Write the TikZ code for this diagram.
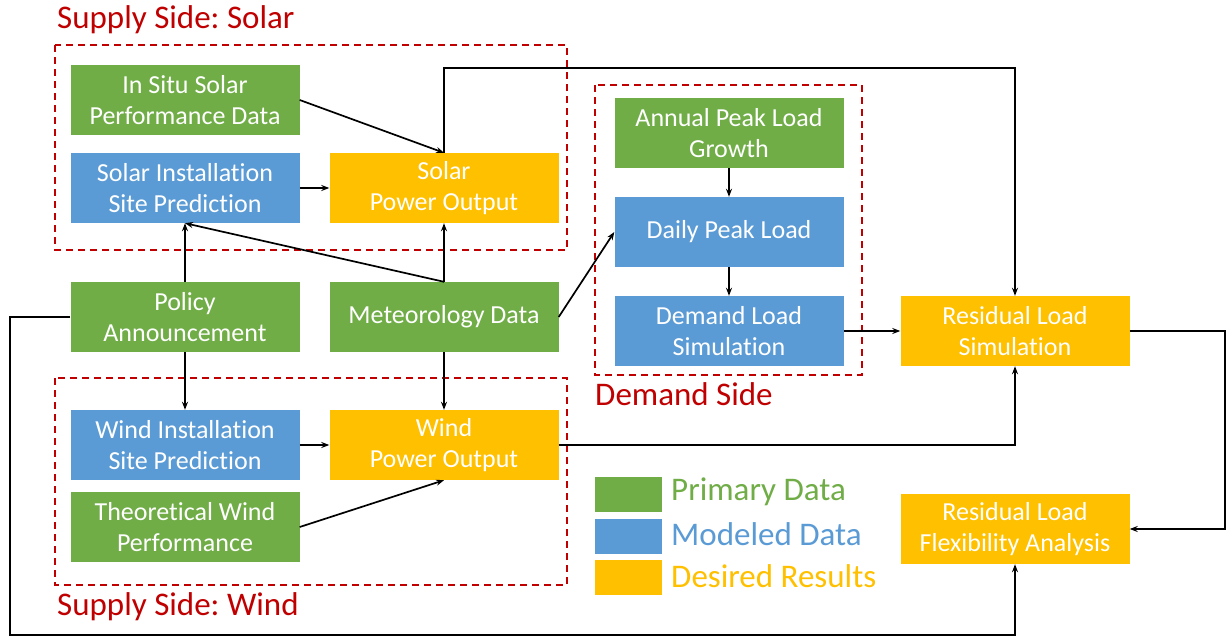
\documentclass[tikz,border=0pt]{standalone}
\usepackage{fontspec}
\setmainfont{Carlito}[Ligatures={NoCommon,NoRequired,NoContextual}]
\usetikzlibrary{arrows.meta}
\definecolor{cgreen}{HTML}{70AD47}
\definecolor{cblue}{HTML}{5B9BD5}
\definecolor{corange}{HTML}{FFC000}
\definecolor{cred}{HTML}{C00000}
\frenchspacing
\tikzset{
  box/.style={rectangle, minimum width=229pt, minimum height=70pt, inner sep=0pt, text=white, align=center, font=\fontsize{26}{31}\selectfont},
  gbox/.style={box, fill=cgreen},
  bbox/.style={box, fill=cblue},
  obox/.style={box, fill=corange},
  arr/.style={line width=1.7pt, -{Stealth[length=8pt,width=6pt]}, black},
  reddash/.style={draw=cred, line width=1.7pt, dash pattern=on 7pt off 5pt},
  grouplabel/.style={text=cred, anchor=west, inner sep=0pt, font=\fontsize{33}{36}\selectfont},
  legsq/.style={rectangle, minimum width=67pt, minimum height=35pt, inner sep=0pt},
  legtxt/.style={anchor=west, inner sep=0pt, font=\fontsize{33}{36}\selectfont},
}
\begin{document}
\begin{tikzpicture}[x=1pt,y=-1pt]
\useasboundingbox[fill=white] (0,0) rectangle (1227,640);
% group frames
\draw[reddash] (55,45) rectangle (567,250);
\draw[reddash] (55,378) rectangle (567,585);
\draw[reddash] (595,85) rectangle (862,375);
\node[grouplabel] (lsolar) at (57,20) {Supply Side: Solar};
\node[grouplabel] (lwind) at (57,607) {Supply Side: Wind};
\node[grouplabel] (ldemand) at (595,394) {Demand Side};
% nodes
\node[gbox] (insitu) at (185,100) {In Situ Solar\\Performance Data};
\node[bbox] (ssite) at (185,188) {Solar Installation\\Site Prediction};
\node[obox] (spo) at (444,188) {Solar\\Power Output};
\node[gbox] (policy) at (185,317) {Policy\\Announcement};
\node[gbox] (met) at (444,317) {Meteorology Data};
\node[bbox] (wsite) at (185,445) {Wind Installation\\Site Prediction};
\node[obox] (wpo) at (444,445) {Wind\\Power Output};
\node[gbox] (theo) at (185,527) {Theoretical Wind\\Performance};
\node[gbox] (annual) at (729,133) {Annual Peak Load\\Growth};
\node[bbox] (daily) at (729,232) {Daily Peak Load};
\node[bbox] (demand) at (729,331) {Demand Load\\Simulation};
\node[obox] (rsim) at (1015,331) {Residual Load\\Simulation};
\node[obox] (rflex) at (1015,529) {Residual Load\\Flexibility Analysis};
% legend
\node[legsq, fill=cgreen] (lg1) at (628,494) {};
\node[legsq, fill=cblue] (lg2) at (628,536) {};
\node[legsq, fill=corange] (lg3) at (628,577) {};
\node[legtxt, text=cgreen] (lt1) at (671,492) {Primary Data};
\node[legtxt, text=cblue] (lt2) at (671,534) {Modeled Data};
\node[legtxt, text=corange] (lt3) at (671,576) {Desired Results};
% connectors
\coordinate (cbl) at (10,635);
\draw[arr] (insitu.east) -- (spo.north);
\draw[arr] (ssite) -- (spo);
\draw[arr] (met.north) -- (spo.south);
\draw[arr] (met.north) -- (ssite.south);
\draw[arr] (policy.north) -- (ssite.south);
\draw[arr] (policy.south) -- (wsite.north);
\draw[arr] (met.south) -- (wpo.north);
\draw[arr] (wsite) -- (wpo);
\draw[arr] (theo.east) -- (wpo.south);
\draw[arr] (met.east) -- (daily.west);
\draw[arr] (annual) -- (daily);
\draw[arr] (daily) -- (demand);
\draw[arr] (demand) -- (rsim);
\draw[arr] (spo.north) -- ++(0,-85) -| (rsim.north);
\draw[arr] (wpo.east) -| (rsim.south);
\draw[arr] (rsim.east) -- ++(95,0) |- (rflex.east);
\draw[arr] (policy.west) -| (cbl) -| (rflex.south);
\end{tikzpicture}
\end{document}
